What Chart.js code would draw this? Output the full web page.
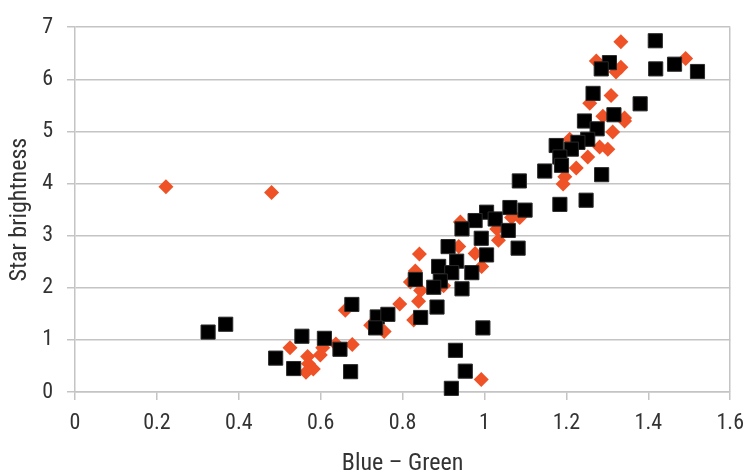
<!DOCTYPE html>
<html>
<head>
<meta charset="utf-8">
<script src="https://cdn.jsdelivr.net/npm/chart.js@4/dist/chart.umd.min.js"></script>
<style>
  html, body { margin: 0; padding: 0; background: #fff; }
  #wrap { width: 754px; height: 472px; }
</style>
</head>
<body>
<div id="wrap"><canvas id="c" width="754" height="472"></canvas></div>
<script>
// orange diamonds
const orangeX = [0.222, 0.480, 0.525, 0.568, 0.570, 0.564, 0.582, 0.599, 0.605, 0.637, 0.677, 0.660, 0.722, 0.755, 0.793,
  0.841, 0.831, 0.819, 0.844, 0.839, 0.827, 0.937, 0.941, 0.977, 0.993, 1.034, 1.030, 1.066, 1.086, 0.900, 0.992,
  1.342, 1.313, 1.301, 1.281, 1.252, 1.224, 1.196, 1.192, 1.208, 1.289,
  1.333, 1.273, 1.333, 1.321, 1.491, 1.309, 1.257, 1.342];
const orangeY = [3.94, 3.83, 0.85, 0.68, 0.54, 0.38, 0.44, 0.71, 0.85, 0.92, 0.91, 1.57, 1.28, 1.16, 1.69,
  2.65, 2.32, 2.11, 1.95, 1.74, 1.38, 2.79, 3.26, 2.66, 2.41, 2.91, 3.13, 3.35, 3.35, 2.04, 0.24,
  5.20, 4.99, 4.66, 4.70, 4.51, 4.30, 4.13, 3.99, 4.85, 5.29,
  6.72, 6.35, 6.23, 6.14, 6.40, 5.69, 5.54, 5.26];

// black squares
const blackX = [0.325, 0.368, 0.490, 0.534, 0.554, 0.609, 0.647, 0.673, 0.676, 0.738, 0.764, 0.734,
  1.005, 1.062, 1.099, 0.977, 0.945, 1.026, 1.058, 0.992, 1.082, 0.911, 1.005, 0.888, 0.932, 0.969, 0.920, 0.892,
  0.831, 0.876, 0.945, 0.884, 0.844, 0.996, 0.929, 0.953, 0.919,
  1.316, 1.244, 1.275, 1.252, 1.228, 1.175, 1.212, 1.184, 1.188, 1.147, 1.286, 1.184, 1.248,
  1.417, 1.305, 1.285, 1.418, 1.464, 1.520, 1.265, 1.380, 1.085];
const blackY = [1.15, 1.30, 0.65, 0.45, 1.07, 1.03, 0.82, 0.39, 1.68, 1.44, 1.49, 1.23,
  3.45, 3.54, 3.49, 3.29, 3.13, 3.32, 3.10, 2.95, 2.76, 2.79, 2.63, 2.41, 2.51, 2.29, 2.29, 2.13,
  2.16, 2.01, 1.98, 1.63, 1.43, 1.23, 0.80, 0.40, 0.07,
  5.32, 5.20, 5.05, 4.85, 4.79, 4.73, 4.66, 4.51, 4.35, 4.24, 4.17, 3.60, 3.68,
  6.74, 6.32, 6.20, 6.20, 6.29, 6.15, 5.73, 5.53, 4.05];

const xTicks = [0, 0.2, 0.4, 0.6, 0.8, 1, 1.2, 1.4, 1.6];
const yTicks = [0, 1, 2, 3, 4, 5, 6, 7];

const toPoints = (xs, ys) => xs.map((x, i) => ({ x: x, y: ys[i] }));

const FONT = '"Roboto Condensed", "Liberation Sans Narrow", "DejaVu Sans Condensed", Roboto, sans-serif';
const GRID = '#c4c4c4';
const TEXT = '#333333';

new Chart(document.getElementById('c'), {
  type: 'scatter',
  data: {
    datasets: [
      {
        label: 'black',
        data: toPoints(blackX, blackY),
        pointStyle: 'rect',
        pointRadius: 10,
        backgroundColor: '#000000',
        borderColor: '#2a2a2a',
        borderWidth: 1,
        clip: false
      },
      {
        label: 'orange',
        data: toPoints(orangeX, orangeY),
        pointStyle: 'rectRot',
        pointRadius: 7.5,
        backgroundColor: '#ef5226',
        borderColor: '#ef5226',
        borderWidth: 0,
        clip: false
      }
    ]
  },
  options: {
    responsive: false,
    animation: false,
    layout: { padding: { left: 0, right: 21, top: 19, bottom: 0 } },
    plugins: {
      legend: { display: false },
      tooltip: { enabled: false }
    },
    scales: {
      x: {
        type: 'linear',
        min: 0,
        max: 1.6,
        afterBuildTicks: s => { s.ticks = xTicks.map(v => ({ value: v })); },
        afterFit: s => { s.height = 80; },
        border: { color: GRID, width: 1.5 },
        grid: {
          // only the right edge gets a full line, the rest are tick marks
          color: c => (c.tick && c.tick.value === 1.6) ? GRID : 'rgba(0,0,0,0)',
          tickColor: GRID,
          lineWidth: 1.5,
          tickLength: 8
        },
        ticks: {
          color: TEXT,
          padding: 10,
          font: { family: FONT, size: 22 },
          callback: v => String(v)
        },
        title: {
          display: true,
          text: 'Blue – Green',
          color: TEXT,
          font: { family: FONT, size: 24 },
          padding: { top: 0, bottom: -6 }
        }
      },
      y: {
        type: 'linear',
        min: 0,
        max: 7,
        afterBuildTicks: s => { s.ticks = yTicks.map(v => ({ value: v })); },
        afterFit: s => { s.width = 75; },
        border: { color: GRID, width: 1.5 },
        grid: {
          color: GRID,
          lineWidth: 1.5,
          tickLength: 8
        },
        ticks: {
          color: TEXT,
          padding: 14,
          font: { family: FONT, size: 22 }
        },
        title: {
          display: true,
          text: 'Star brightness',
          color: TEXT,
          font: { family: FONT, size: 24 },
          padding: { top: 6, bottom: 0 }
        }
      }
    }
  }
});
</script>
</body>
</html>
